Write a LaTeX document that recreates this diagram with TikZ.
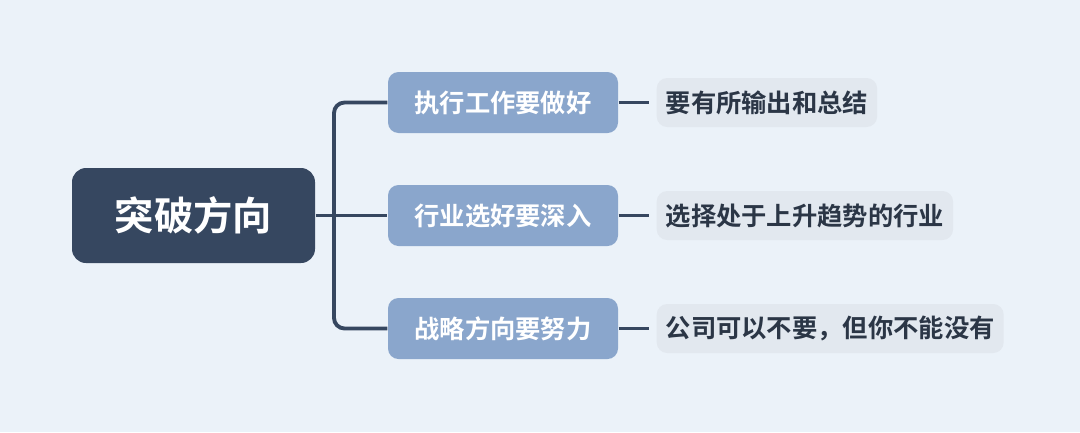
\documentclass[tikz,border=0pt]{standalone}
\usepackage{fontspec}
\setmainfont{Noto Sans CJK SC}[BoldFont={Noto Sans CJK SC Bold}]
\usetikzlibrary{positioning}
\definecolor{bgcol}{HTML}{EBF2F9}
\definecolor{rootcol}{HTML}{364760}
\definecolor{midcol}{HTML}{8AA6CC}
\definecolor{leafcol}{HTML}{E2E8EF}
\definecolor{txtcol}{HTML}{2B3646}
\tikzset{
  rootbox/.style={fill=rootcol, rounded corners=4pt, minimum width=2.43cm, minimum height=0.95cm,
    text=white, font=\fontsize{11.2}{12}\selectfont\bfseries},
  midbox/.style={fill=midcol, rounded corners=3pt, minimum width=2.3cm, minimum height=0.61cm,
    text=white, font=\fontsize{7.2}{8}\selectfont\bfseries},
  leafbox/.style={fill=leafcol, rounded corners=3pt, minimum height=0.49cm, inner xsep=0.09cm,
    text=txtcol, font=\fontsize{7.2}{8}\selectfont\bfseries, anchor=west},
  link/.style={draw=rootcol, line width=1.1pt, rounded corners=3pt}
}
\begin{document}
\begin{tikzpicture}
    \fill[bgcol] (0,0) rectangle (10.8,-4.32);
    \useasboundingbox (0,0) rectangle (10.8,-4.32);

    % root
    \node[rootbox] (root) at (1.935,-2.155) {突破方向};

    % branches
    \node[midbox] (b1) at (5.03,-1.025) {执行工作要做好};
    \node[midbox] (b2) at (5.03,-2.155) {行业选好要深入};
    \node[midbox] (b3) at (5.03,-3.285) {战略方向要努力};

    % leaves
    \node[leafbox] (l1) at (6.56,-1.025) {要有所输出和总结};
    \node[leafbox] (l2) at (6.56,-2.155) {选择处于上升趋势的行业};
    \node[leafbox] (l3) at (6.56,-3.285) {公司可以不要，但你不能没有};

    % connectors
    \coordinate (fork) at (3.34,-2.155);
    \draw[link] (root.east) -- (fork);
    \draw[link] (b1.west) -| (fork) |- (b3.west);
    \draw[link] (fork) -- (b2.west);
    \foreach \i in {1,2,3}
        \draw[link] (b\i.east) -- ++(0.3,0);
\end{tikzpicture}
\end{document}
